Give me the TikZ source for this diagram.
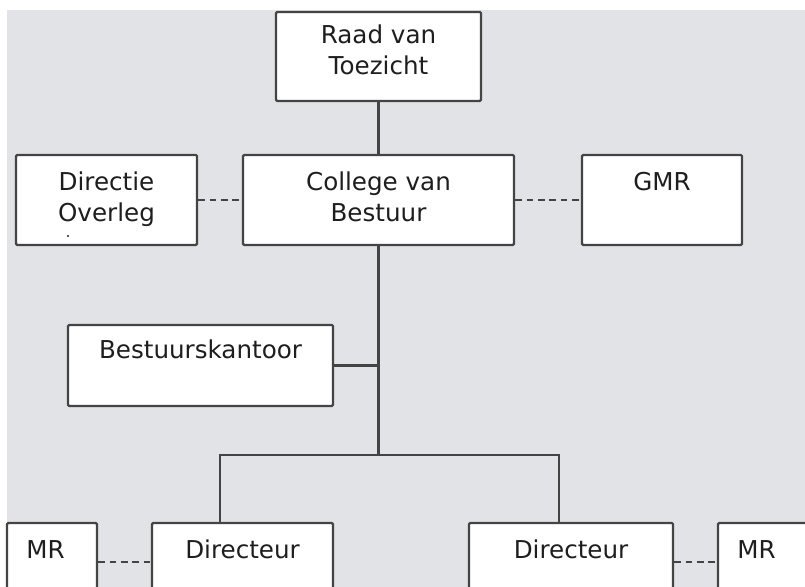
\documentclass[tikz,border=0pt]{standalone}
\usepackage{fontspec}
\setmainfont{DejaVu Sans}
\definecolor{bgGray}{RGB}{225,227,230}
\definecolor{lineGray}{RGB}{68,68,68}
\definecolor{txtGray}{RGB}{30,30,30}

\begin{document}
\begin{tikzpicture}[x=0.5pt,y=-0.5pt,
                    boxND/.style={rectangle,
                                  draw=lineGray,
                                  line width=1.1pt,
                                  rounded corners=0.6pt,
                                  inner sep=0pt,
                                  fill=white},
                    txtND/.style={anchor=north,
                                  yshift=-9pt,
                                  inner sep=0pt,
                                  align=center,
                                  text=txtGray,
                                  font=\fontsize{12.3}{15.5}\selectfont},
                    solidLN/.style={draw=lineGray, line width=1.1pt},
                    dashLN/.style={draw=lineGray, line width=1.3pt,
                                   dash pattern=on 3.3pt off 2.4pt}]
        % page and grey panel
        \clip (0,0) rectangle (805,587);
        \fill[white] (0,0) rectangle (805,587);
        \fill[bgGray] (7,10) rectangle (805,587);

        \node[boxND, minimum width=102.5pt, minimum height=44.5pt,
              label={[txtND, yshift=2pt]north:Raad van\\Toezicht}] (RvT) at (378.5,56.5) {};
        \node[boxND, minimum width=90.5pt, minimum height=45pt,
              label={[txtND]north:Directie\\Overleg}] (DO)  at (106.5,200) {};
        \node[boxND, minimum width=135.5pt, minimum height=45pt,
              label={[txtND]north:College van\\Bestuur}] (CvB) at (378.5,200) {};
        \node[boxND, minimum width=80pt, minimum height=45pt,
              label={[txtND]north:GMR}] (GMR) at (662,200) {};
        \node[boxND, minimum width=132.5pt, minimum height=40.5pt,
              label={[txtND, yshift=1pt]north:Bestuurskantoor}] (BK) at (200.5,365.5) {};
        \node[boxND, minimum width=90.5pt, minimum height=39pt,
              label={[txtND]north:Directeur}] (Dir1) at (242.5,562) {};
        \node[boxND, minimum width=102pt, minimum height=39pt,
              label={[txtND]north:Directeur}] (Dir2) at (571,562) {};
        \node[boxND, minimum width=45pt, minimum height=39pt,
              label={[txtND, anchor=north west, xshift=10pt]north west:MR}] (MR1) at (52,562) {};
        \node[boxND, minimum width=61pt, minimum height=39pt,
              label={[txtND, anchor=north west, xshift=10pt]north west:MR}] (MR2) at (779,562) {};

        % stray dot below Overleg
        \fill[txtGray] (68,236) circle (0.6pt);

        \coordinate (hub)   at (378.5,455);
        \coordinate (dropL) at (220,455);
        \coordinate (dropR) at (559,455);

        \path
            (RvT) edge [solidLN] (CvB)
            (DO)  edge [dashLN]  (CvB)
            (CvB) edge [dashLN]  (GMR)
            (MR1) edge [dashLN]  (Dir1)
            (Dir2) edge [dashLN] (MR2)
            ;
        \draw[solidLN] (CvB) -- (hub);
        \draw[solidLN, line width=1.7pt] (CvB.south) -- ++(0,43);
        \draw[solidLN] (BK.east) -- (BK.east -| hub);
        \draw[solidLN] (dropL |- Dir1.north) -- (dropL) -- (dropR) -- (dropR |- Dir2.north);
    \end{tikzpicture}
\end{document}
